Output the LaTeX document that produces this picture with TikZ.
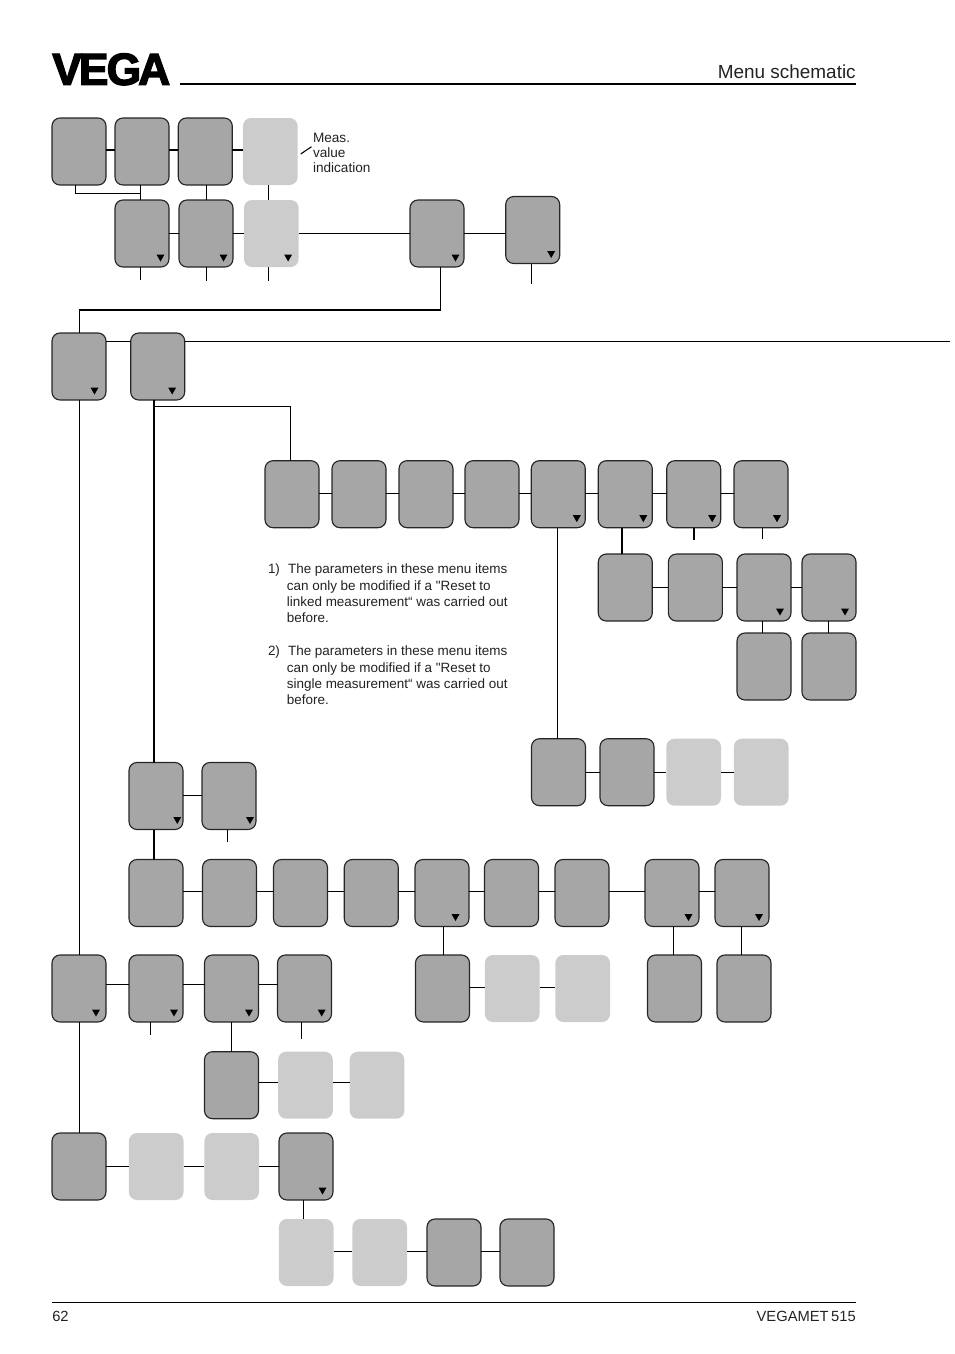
\documentclass[tikz,border=0pt]{standalone}
\usepackage{fontspec}
\setmainfont{Liberation Sans}[Ligatures=TeXOff]
\definecolor{boxgray}{HTML}{A6A6A6}
\definecolor{boxlight}{HTML}{CCCCCC}
\definecolor{ink}{HTML}{222222}
\tikzset{
  menubox/.style={rounded corners=6pt,minimum width=40.5pt,minimum height=50.25pt,inner sep=0pt,outer sep=0pt},
  dk/.style={menubox,fill=boxgray,draw=black!85,line width=.85pt},
  lt/.style={menubox,fill=boxlight,minimum width=41pt},
  link/.style={line width=.8pt,black},
  fat/.style={line width=1.5pt,black},
  note/.style={anchor=north west,align=left,inner sep=0pt,outer sep=0pt,text=ink}
}
\newcommand{\bx}[4]{\node[#4] (#1) at ({#2+27},{#3+33.5}) {};}
\newcommand{\tri}[2][0]{\fill[black] ([shift={({#1-12.5},-12.5)}]#2.south east) -- ([shift={({#1-4.5},-12.5)}]#2.south east) -- ([shift={({#1-8.5},-5.5)}]#2.south east) -- cycle;}
% horizontal link at image height #1 between the facing sides of #2 and #3
\newcommand{\hl}[3]{\draw[link] (#2.east |- 0,#1) -- (#3.west |- 0,#1);}
% vertical link at image column #1 between bottom of #2 and top of #3
\newcommand{\vl}[3]{\draw[link] (#2.south -| #1,0) -- (#3.north -| #1,0);}
\begin{document}
\begin{tikzpicture}[x=.75pt,y=-.75pt]
\useasboundingbox (0,0) rectangle (954,1354);
% header / footer
\node[inner sep=0pt,anchor=south west] (logo) at (52,85.5) {\resizebox{88.5pt}{23.5pt}{\addfontfeature{FakeBold=3}\bfseries V\kern-.07em E\kern-.04em G\kern-.07em A}};
\coordinate (hrA) at (180,84); \coordinate (hrB) at (856,84);
\draw[fat] (hrA) -- (hrB);
\node[inner sep=0pt,anchor=base east,text=ink] (title) at (856,78) {\fontsize{14.2pt}{16pt}\selectfont Menu schematic};
\coordinate (frA) at (52,1302.5); \coordinate (frB) at (856,1302.5);
\draw[link] (frA) -- (frB);
\node[inner sep=0pt,anchor=base west,text=ink] (page) at (52,1321) {\fontsize{11.05pt}{14pt}\selectfont 62};
\node[inner sep=0pt,anchor=base east,text=ink] (model) at (856,1321) {\fontsize{11.05pt}{14pt}\selectfont VEGAMET\,515};
% row 1
\bx{a1}{52}{118}{dk}\bx{a2}{115}{118}{dk}\bx{a3}{178.3}{118}{dk}\bx{a4}{243.3}{118}{lt}
% row 2
\bx{b1}{115}{200}{dk}\bx{b2}{179}{200}{dk}\bx{b3}{244.3}{200}{lt}\bx{b4}{410}{200}{dk}\bx{b5}{505.7}{196.5}{dk}
% row 3
\bx{c1}{52}{333}{dk}\bx{c2}{130.7}{333}{dk}
% row 4
\bx{d1}{265}{460.7}{dk}\bx{d2}{332}{460.7}{dk}\bx{d3}{399}{460.7}{dk}\bx{d4}{465}{460.7}{dk}\bx{d5}{531.3}{460.7}{dk}\bx{d6}{598.3}{460.7}{dk}\bx{d7}{666.7}{460.7}{dk}\bx{d8}{734}{460.7}{dk}
% rows 5, 6
\bx{e1}{598.3}{554}{dk}\bx{e2}{668.4}{554}{dk}\bx{e3}{737}{554}{dk}\bx{e4}{802}{554}{dk}
\bx{f1}{737}{633}{dk}\bx{f2}{802}{633}{dk}
% row 7
\bx{g1}{531.5}{738.7}{dk}\bx{g2}{600}{738.7}{dk}\bx{g3}{666.7}{738.7}{lt}\bx{g4}{734.2}{738.7}{lt}
% row 8, 9
\bx{h1}{129}{762.5}{dk}\bx{h2}{202}{762.5}{dk}
\bx{i1}{129}{859.5}{dk}\bx{i2}{202.5}{859.5}{dk}\bx{i3}{273.5}{859.5}{dk}\bx{i4}{344.3}{859.5}{dk}\bx{i5}{415}{859.5}{dk}\bx{i6}{484.5}{859.5}{dk}\bx{i7}{555}{859.5}{dk}\bx{i8}{645}{859.5}{dk}\bx{i9}{715}{859.5}{dk}
% row 10
\bx{j1}{52}{955}{dk}\bx{j2}{129}{955}{dk}\bx{j3}{204.5}{955}{dk}\bx{j4}{277.5}{955}{dk}
\bx{j5}{415.5}{955}{dk}\bx{j6}{485.2}{955}{lt}\bx{j7}{555.7}{955}{lt}\bx{j8}{647.5}{955}{dk}\bx{j9}{717}{955}{dk}
% row 11
\bx{k1}{204.5}{1051.7}{dk}\bx{k2}{278.5}{1051.7}{lt}\bx{k3}{350}{1051.7}{lt}
% row 12
\bx{l1}{52}{1133}{dk}\bx{l2}{129.2}{1133}{lt}\bx{l3}{204.7}{1133}{lt}\bx{l4}{279}{1133}{dk}
% row 13
\bx{m1}{279.2}{1219}{lt}\bx{m2}{352.7}{1219}{lt}\bx{m3}{427}{1219}{dk}\bx{m4}{500}{1219}{dk}
% triangles
\foreach \n/\d in {b1/0,b2/-1,b3/-2,b4/0,b5/0,c1/-3,c2/-4,d5/0,d6/-.5,d7/0,d8/-2.5,e3/-2.5,e4/-2.5,h1/2.8,h2/2.5,i5/-5,i8/-2,i9/-1.5,j1/-1.5,j2/-.5,j3/-1,j4/-1.3,l4/-2} {\tri[\d]{\n}}
% coordinates of free ends
\coordinate (sb1) at (140.5,280); \coordinate (sb2) at (206.5,281); \coordinate (sb3) at (268.5,281); \coordinate (sb5) at (531.5,284);
\coordinate (tA) at (440.5,310); \coordinate (tB) at (79.5,310);
\coordinate (loop) at (75.5,193.5); \coordinate (far) at (950,341.5);
\coordinate (tC) at (154,406.5); \coordinate (tD) at (290.5,406.5);
\coordinate (sd7) at (694,540); \coordinate (sd8) at (762.5,539);
\coordinate (sh2) at (227.5,842); \coordinate (sj2) at (150.5,1034.5); \coordinate (sj4) at (301.5,1039);
\coordinate (mA) at (300.7,154); \coordinate (mB) at (311.5,146.7);
% row 1 connectors
\draw[fat] (a1.east |- 0,150) -- (a2.west |- 0,150) (a2.east |- 0,150) -- (a3.west |- 0,150) (a3.east |- 0,150) -- (a4.west |- 0,150);
\draw[link] (a1.south -| loop) |- (sb1 |- loop);
\vl{140.5}{a2}{b1}\vl{206.5}{a3}{b2}\vl{268.5}{a4}{b3}
\draw[link] (mA) -- (mB);
% row 2
\hl{233.5}{b1}{b2}\hl{233.5}{b2}{b3}\hl{233.5}{b3}{b4}\hl{233.5}{b4}{b5}
\draw[link] (b1.south -| sb1) -- (sb1) (b2.south -| sb2) -- (sb2) (b3.south -| sb3) -- (sb3) (b5.south -| sb5) -- (sb5);
\draw[link] (b4.south -| tA) -- (tA);
\draw[fat] ([xshift=.4pt]tA) -- ([xshift=-.4pt]tB);
\draw[link] (tB) -- (c1.north -| tB);
% row 3
\hl{341.5}{c1}{c2}
\draw[link] (c2.east |- far) -- (far);
\vl{79.5}{c1}{j1}\vl{79.5}{j1}{l1}
\draw[fat] (c2.south -| tC) -- (h1.north -| tC) (h1.south -| tC) -- (i1.north -| tC);
\draw[link] (tC) -- (tD) -- (d1.north -| tD);
% row 4
\hl{493.5}{d1}{d2}\hl{493.5}{d2}{d3}\hl{493.5}{d3}{d4}\hl{493.5}{d4}{d5}\hl{493.5}{d5}{d6}\hl{493.5}{d6}{d7}\hl{493.5}{d7}{d8}
\vl{557.5}{d5}{g1}
\draw[fat] (d6.south -| 622,0) -- (e1.north -| 622,0);
\draw[fat] (d7.south -| sd7) -- (sd7);
\draw[link] (d8.south -| sd8) -- (sd8);
% rows 5, 6
\hl{587.5}{e1}{e2}\hl{587.5}{e2}{e3}\hl{587.5}{e3}{e4}
\vl{762.5}{e3}{f1}\vl{828.5}{e4}{f2}
% row 7
\hl{772.5}{g1}{g2}\hl{772.5}{g2}{g3}\hl{772.5}{g3}{g4}
% row 8
\hl{795.5}{h1}{h2}
\draw[link] (h2.south -| sh2) -- (sh2);
% row 9
\hl{891.5}{i1}{i2}\hl{891.5}{i2}{i3}\hl{891.5}{i3}{i4}\hl{891.5}{i4}{i5}\hl{891.5}{i5}{i6}\hl{891.5}{i6}{i7}\hl{891.5}{i7}{i8}\hl{891.5}{i8}{i9}
\vl{443.5}{i5}{j5}\vl{673.5}{i8}{j8}\vl{741.5}{i9}{j9}
% row 10
\hl{984.5}{j1}{j2}\hl{984.5}{j2}{j3}\hl{984.5}{j3}{j4}
\hl{987.5}{j5}{j6}\hl{987.5}{j6}{j7}
\draw[link] (j2.south -| sj2) -- (sj2) (j4.south -| sj4) -- (sj4);
\vl{231.5}{j3}{k1}
% row 11
\hl{1082.5}{k1}{k2}\hl{1082.5}{k2}{k3}
% row 12
\hl{1166.5}{l1}{l2}\hl{1166.5}{l2}{l3}\hl{1166.5}{l3}{l4}
\vl{303.5}{l4}{m1}
% row 13
\hl{1251.5}{m1}{m2}\hl{1251.5}{m2}{m3}\hl{1251.5}{m3}{m4}
% texts
\node[note,font=\fontsize{10.2pt}{11.25pt}\selectfont] (meas) at (313,133.5) {Meas.\\value\\indication};
\node[note,font=\fontsize{10.1pt}{12.3pt}\selectfont] (nA) at (268,564) {1)\hspace{.6em}The parameters in these menu items\\\hspace{1.4em}can only be modified if a "Reset to\\\hspace{1.4em}linked measurement“ was carried out\\\hspace{1.4em}before.};
\node[note,font=\fontsize{10.1pt}{12.3pt}\selectfont] (nB) at (268,646) {2)\hspace{.6em}The parameters in these menu items\\\hspace{1.4em}can only be modified if a "Reset to\\\hspace{1.4em}single measurement“ was carried out\\\hspace{1.4em}before.};
\end{tikzpicture}
\end{document}
